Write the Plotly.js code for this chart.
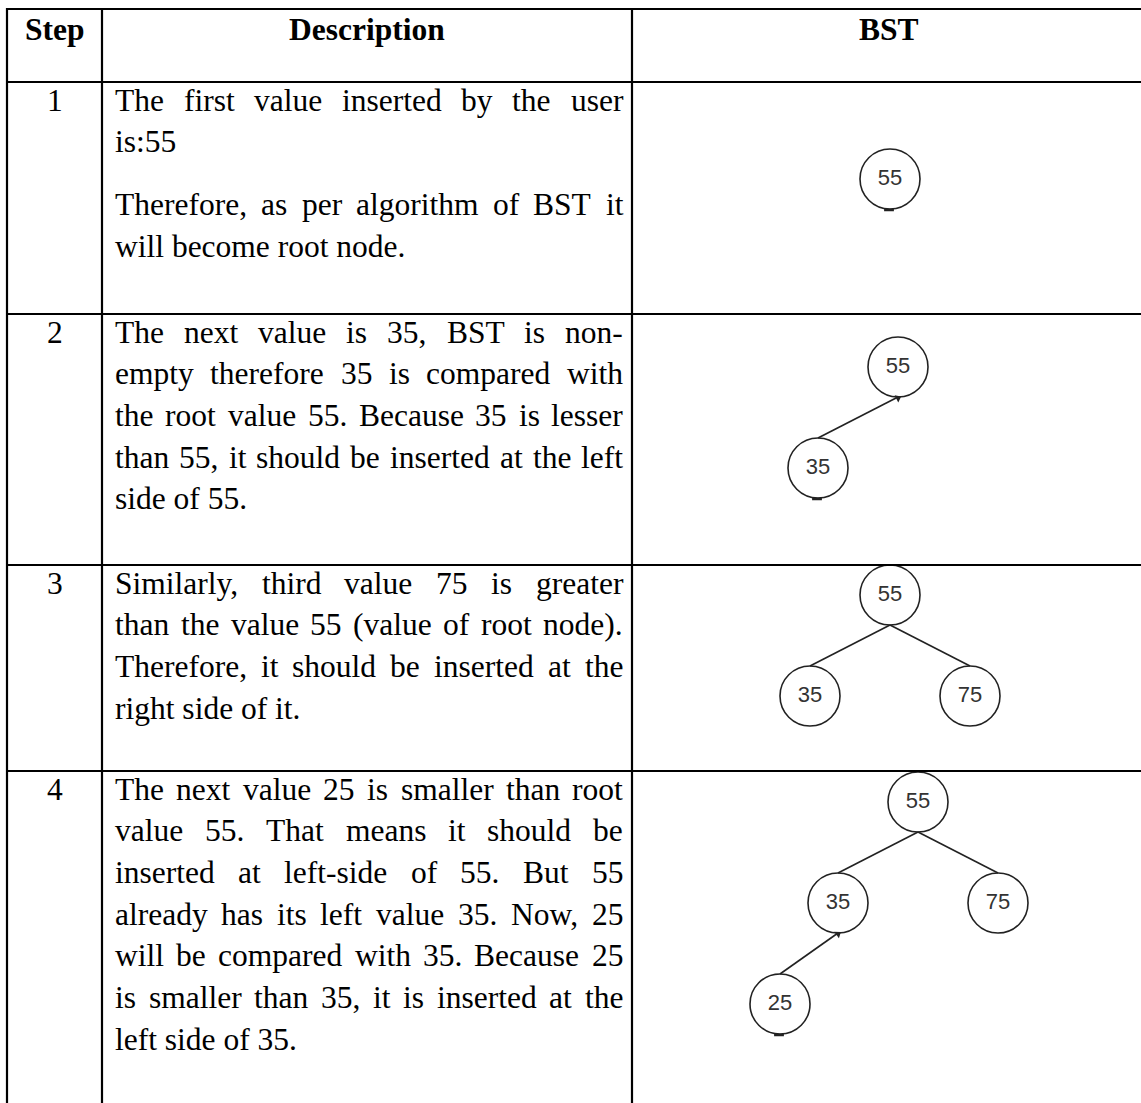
<!DOCTYPE html>
<html>
<head>
<meta charset="utf-8">
<script src="https://cdn.plot.ly/plotly-3.0.1.min.js"></script>
<style>
html,body{margin:0;padding:0;background:#fff;}
#chart{width:1141px;height:1103px;}
</style>
</head>
<body>
<div id="chart"></div>
<script>
// ---------------- DATA ----------------
const headers = ['Step', 'Description', 'BST'];
const stepNumbers = ['1', '2', '3', '4'];
// each step: paragraphs -> lines (last line of each paragraph is not justified)
const desc1 = [
  ['The first value inserted by the user', 'is:55'],
  ['Therefore, as per algorithm of BST it', 'will become root node.']
];
const desc2 = [
  ['The next value is 35, BST is non-', 'empty therefore 35 is compared with',
   'the root value 55. Because 35 is lesser', 'than 55, it should be inserted at the left',
   'side of 55.']
];
const desc3 = [
  ['Similarly, third value 75 is greater', 'than the value 55 (value of root node).',
   'Therefore, it should be inserted at the', 'right side of it.']
];
const desc4 = [
  ['The next value 25 is smaller than root', 'value 55. That means it should be',
   'inserted at left-side of 55. But 55', 'already has its left value 35. Now, 25',
   'will be compared with 35. Because 25', 'is smaller than 35, it is inserted at the',
   'left side of 35.']
];
const descriptions = [desc1, desc2, desc3, desc4];
// values inserted into the BST, one per step
const insertOrder = [55, 35, 75, 25];

// ---------------- LAYOUT / STYLE ----------------
const W = 1141, H = 1103;
const rowLines = [9, 82, 314, 565, 771];          // horizontal rules
const rowBottom = 1103 + 40;                        // table continues past bottom
const colLines = [7, 102, 632];                     // vertical rules (right border off-page)
const tableRight = 1146;
const lineW = 2.2;
const serif = 'Liberation Serif, Times New Roman, serif';
const sans = 'Liberation Sans, Arial, sans-serif';
const bodySize = 31.5;
const lineGap = 41.7;
const paraGap = 21;
const textLeft = 113, textRight = 621;
const firstLineOffset = 18;
const headerY = 29;
// tree layout per step
const rootPos = [[890, 179], [898, 367], [890, 595], [918, 802]];
const levelDx = [80, 58];
const levelDy = 101;
const nodeR = 30;
const arrowSteps = [false, true, false, true];   // last edge drawn with arrowhead at parent
const stubSteps = [true, true, false, true];     // small connector stub under newest node

const ctx = document.createElement('canvas').getContext('2d');
function tw(s, size) {
  ctx.font = 'normal ' + size + 'px "Liberation Serif"';
  return ctx.measureText(s).width;
}

const annotations = [];
const shapes = [];
function addText(txt, x, y, opts) {
  annotations.push(Object.assign({
    x: x, y: y, xref: 'x', yref: 'y', text: txt, showarrow: false,
    xanchor: 'left', yanchor: 'middle',
    font: {family: serif, size: bodySize, color: '#000'}
  }, opts || {}));
}

// table rules
rowLines.forEach(y => shapes.push({type: 'line', xref: 'x', yref: 'y', x0: colLines[0] - 1, x1: tableRight, y0: y, y1: y, line: {color: '#000', width: lineW}}));
colLines.forEach(x => shapes.push({type: 'line', xref: 'x', yref: 'y', x0: x, x1: x, y0: rowLines[0] - 1, y1: rowBottom, line: {color: '#000', width: lineW}}));

// headers
const colCenters = [(colLines[0] + colLines[1]) / 2, (colLines[1] + colLines[2]) / 2, (colLines[2] + tableRight) / 2];
headers.forEach((h, i) => addText('<b>' + h + '</b>', colCenters[i], headerY, {xanchor: 'center'}));

// rows
descriptions.forEach((paras, r) => {
  let y = rowLines[r + 1] + firstLineOffset;
  addText(stepNumbers[r], colCenters[0], y, {xanchor: 'center'});
  paras.forEach((lines, p) => {
    if (p > 0) y += paraGap;
    lines.forEach((line, li) => {
      const last = li === lines.length - 1;
      if (last) {
        addText(line, textLeft, y);
      } else {
        const words = line.split(' ');
        const total = words.reduce((a, w) => a + tw(w, bodySize), 0);
        const gap = (textRight - textLeft - total) / (words.length - 1);
        let x = textLeft;
        words.forEach(w => { addText(w, x, y); x += tw(w, bodySize) + gap; });
      }
      y += lineGap;
    });
  });
});

// BST trees built by insertion
const traces = [];
insertOrder.forEach((_, s) => {
  const vals = insertOrder.slice(0, s + 1);
  const nodes = [];
  vals.forEach(v => {
    if (!nodes.length) { nodes.push({v: v, x: rootPos[s][0], y: rootPos[s][1], d: 0, parent: null, left: null, right: null}); return; }
    let cur = nodes[0];
    while (true) {
      const side = v < cur.v ? 'left' : 'right';
      if (cur[side]) { cur = cur[side]; continue; }
      const dx = levelDx[Math.min(cur.d, levelDx.length - 1)] * (side === 'left' ? -1 : 1);
      const n = {v: v, x: cur.x + dx, y: cur.y + levelDy, d: cur.d + 1, parent: cur, left: null, right: null};
      cur[side] = n; nodes.push(n); break;
    }
  });
  const ex = [], ey = [];
  nodes.forEach(n => { if (n.parent) { ex.push(n.parent.x, n.x, null); ey.push(n.parent.y + nodeR, n.y - nodeR, null); } });
  traces.push({x: ex, y: ey, mode: 'lines', type: 'scatter', line: {color: '#222', width: 1.6}, hoverinfo: 'skip', showlegend: false});
  traces.push({
    x: nodes.map(n => n.x), y: nodes.map(n => n.y), text: nodes.map(n => String(n.v)),
    mode: 'markers+text', type: 'scatter', textposition: 'middle center',
    textfont: {family: sans, size: 22, color: '#333'},
    marker: {symbol: 'circle', size: nodeR * 2, color: 'rgba(255,255,255,0)', line: {color: '#222', width: 1.6}},
    hoverinfo: 'skip', showlegend: false
  });
  const newest = nodes[nodes.length - 1];
  if (stubSteps[s]) {
    traces.push({x: [newest.x - 1], y: [newest.y + nodeR + 1], mode: 'markers', type: 'scatter',
      marker: {symbol: 'line-ew', size: 7, line: {color: '#222', width: 2.5}}, hoverinfo: 'skip', showlegend: false});
  }
  if (arrowSteps[s] && newest.parent) {
    const px = newest.parent.x, py = newest.parent.y + nodeR;
    const ang = Math.atan2(px - newest.x, -(py - (newest.y - nodeR))) * 180 / Math.PI;
    traces.push({x: [px], y: [py + 1], mode: 'markers', type: 'scatter',
      marker: {symbol: 'triangle-up', size: 7, angle: ang, color: '#222'}, hoverinfo: 'skip', showlegend: false});
  }
});

const layout = {
  width: W, height: H,
  margin: {l: 0, r: 0, t: 0, b: 0},
  paper_bgcolor: '#fff', plot_bgcolor: '#fff',
  xaxis: {range: [0, W], visible: false, fixedrange: true},
  yaxis: {range: [H, 0], visible: false, fixedrange: true},
  shapes: shapes, annotations: annotations, showlegend: false
};
Plotly.newPlot('chart', traces, layout, {displayModeBar: false, staticPlot: true});
</script>
</body>
</html>
